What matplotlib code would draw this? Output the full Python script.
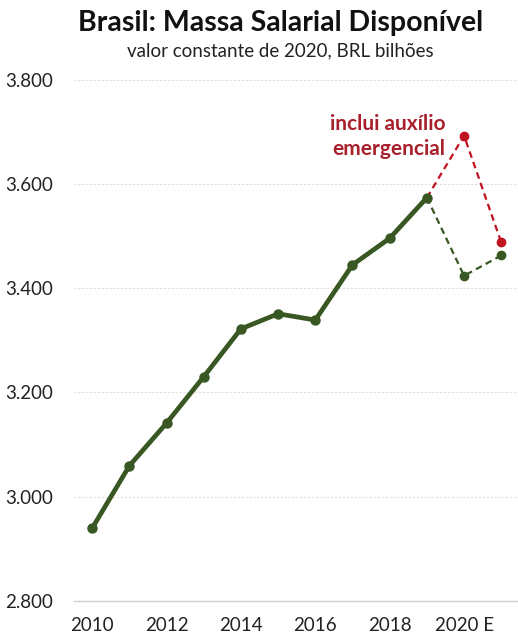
import matplotlib
matplotlib.use("Agg")
import matplotlib.pyplot as plt
from matplotlib.ticker import FuncFormatter

# Série histórica (BRL bilhões, valor constante de 2020)
years = [2010, 2011, 2012, 2013, 2014, 2015, 2016, 2017, 2018, 2019]
massa = [2939, 3059, 3141, 3230, 3322, 3351, 3339, 3445, 3496, 3574]

# Estimativas 2020-2021
proj_years = [2019, 2020, 2021]
proj_sem_aux = [3574, 3424, 3463]
proj_com_aux = [3574, 3693, 3488]

xtick_pos = [2010, 2012, 2014, 2016, 2018, 2020]
xtick_labels = ["2010", "2012", "2014", "2016", "2018", "2020 E"]
ytick_vals = [2800, 3000, 3200, 3400, 3600, 3800]

green = "#385723"
red = "#C0121F"
text_red = "#A8202B"

plt.rcParams["font.family"] = ["Lato", "DejaVu Sans"]

fig = plt.figure(figsize=(5.18, 6.39), dpi=100)
ax = fig.add_axes([0.142, 0.06, 0.858, 0.8148])

ax.set_ylim(2800, 3800)
ax.set_xlim(2009.5, 2021.45)

for v in ytick_vals[1:]:
    ax.axhline(v, color="#e0e0e0", lw=0.8, ls=(0, (2, 1.5)), zorder=0)

ax.plot(proj_years, proj_com_aux, color=red, lw=1.6, ls=(0, (3, 2)), zorder=2)
ax.plot(proj_years[1:], proj_com_aux[1:], ls="none", marker="o", ms=6,
        color=red, zorder=3)
ax.plot(proj_years, proj_sem_aux, color=green, lw=1.6, ls=(0, (3, 2)), zorder=2)
ax.plot(proj_years[1:], proj_sem_aux[1:], ls="none", marker="o", ms=6,
        color=green, zorder=3)
ax.plot(years, massa, color=green, lw=3.4, marker="o", ms=6.5, zorder=4,
        solid_capstyle="round")

ax.set_xticks(xtick_pos)
ax.set_xticklabels(xtick_labels)
ax.set_yticks(ytick_vals)
ax.yaxis.set_major_formatter(FuncFormatter(lambda v, p: f"{int(v):,}".replace(",", ".")))
ax.tick_params(axis="both", length=0, labelsize=13.5, colors="#222222")
ax.tick_params(axis="x", pad=12)
ax.tick_params(axis="y", pad=15)

for s in ["top", "right", "left"]:
    ax.spines[s].set_visible(False)
ax.spines["bottom"].set_color("#d0d0d0")
ax.spines["bottom"].set_linewidth(1)

ax.text(2019.5, 3692, "inclui auxílio\nemergencial", color=text_red,
        fontsize=15, fontweight="bold", ha="right", va="center",
        linespacing=1.3)

fig.text(0.542, 0.964, "Brasil: Massa Salarial Disponível", ha="center",
         va="center", fontsize=20.5, fontweight="bold", color="#111111")
fig.text(0.542, 0.92, "valor constante de 2020, BRL bilhões", ha="center",
         va="center", fontsize=13.5, color="#222222")

fig.savefig("out.png", dpi=100)
